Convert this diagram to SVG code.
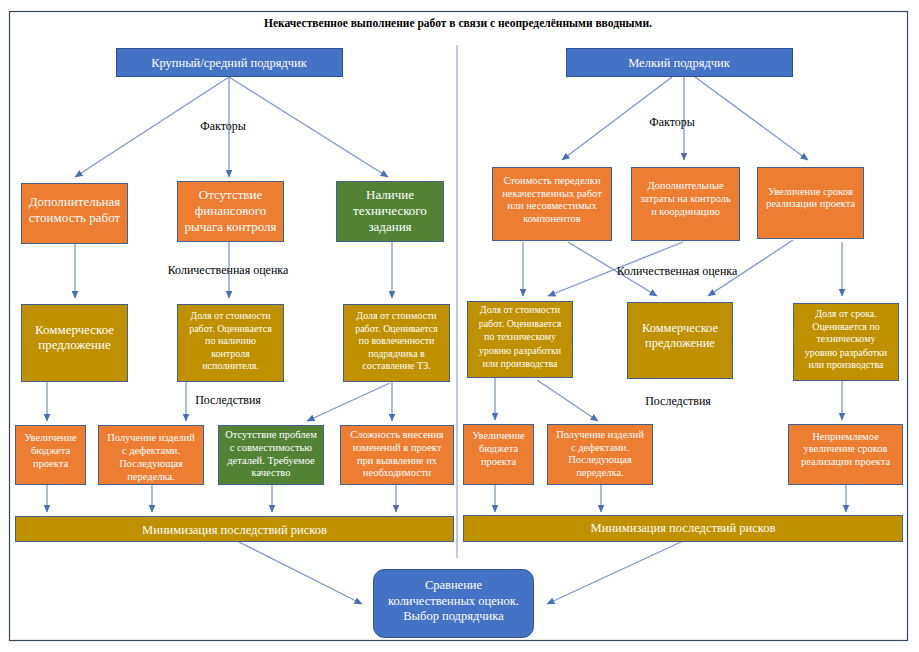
<svg xmlns="http://www.w3.org/2000/svg" width="919" height="652" viewBox="0 0 919 652">
<defs>
<marker id="ah" markerWidth="8" markerHeight="7" refX="7.5" refY="3.5" orient="auto" markerUnits="userSpaceOnUse">
<path d="M0,0 L8,3.5 L0,7 z" fill="#4A6FB5"/>
</marker>
</defs>
<style>
text{font-family:'Liberation Serif','Times New Roman','DejaVu Serif',serif}
.t{fill:#fff;text-anchor:middle}
.l{fill:#000;text-anchor:middle}
.s13{font-size:13px}
.s12{font-size:12.5px}
.s10{font-size:10.5px}
.s9{font-size:10px}
.bl{fill:#4472C4;stroke:#2F528F;stroke-width:1}
.or{fill:#ED7D31;stroke:#41608F;stroke-width:1}
.gr{fill:#548235;stroke:#41608F;stroke-width:1}
.go{fill:#BF9000;stroke:#41608F;stroke-width:1}
.c{stroke:#7E97C8;stroke-width:1.3;fill:none;marker-end:url(#ah)}
</style>
<rect x="0" y="0" width="919" height="652" fill="#fff"/>
<rect x="9.5" y="11.5" width="898" height="629" fill="none" stroke="#34495E" stroke-width="1.2"/>
<text class="l" x="458" y="27" font-size="11.5" font-weight="bold">Некачественное выполнение работ в связи с неопределёнными вводными.</text>
<line x1="457" y1="45" x2="457" y2="558" stroke="#9DB0CF" stroke-width="1.3"/>

<g id="connectors">
<path class="c" d="M229,77 L75,177"/>
<path class="c" d="M229,77 L229,177"/>
<path class="c" d="M229,77 L388,177"/>
<path class="c" d="M672,77 L562,160"/>
<path class="c" d="M684,77 L684,160"/>
<path class="c" d="M695,77 L808,160"/>
<path class="c" d="M75,243 L75,298"/>
<path class="c" d="M229,241 L229,298"/>
<path class="c" d="M392,241 L392,298"/>
<path class="c" d="M523,242 L523,296"/>
<path class="c" d="M568,242 L657,296"/>
<path class="c" d="M683,242 L548,296"/>
<path class="c" d="M793,240 L708,296"/>
<path class="c" d="M842,242 L842,296"/>
<path class="c" d="M47,381 L47,421"/>
<path class="c" d="M186,381 L186,421"/>
<path class="c" d="M390,383 L307,421"/>
<path class="c" d="M392,381 L392,421"/>
<path class="c" d="M495,377 L495,420"/>
<path class="c" d="M537,380 L598,421"/>
<path class="c" d="M842,380 L842,420"/>
<path class="c" d="M47,484 L47,512"/>
<path class="c" d="M152,484 L152,512"/>
<path class="c" d="M272,484 L272,512"/>
<path class="c" d="M396,484 L396,512"/>
<path class="c" d="M495,484 L495,512"/>
<path class="c" d="M601,484 L601,512"/>
<path class="c" d="M846,484 L846,512"/>
<path class="c" d="M237,541 L362,604"/>
<path class="c" d="M683,541 L547,604"/>
</g>

<g id="labels">
<text class="l" x="223" y="130" font-size="12">Факторы</text>
<text class="l" x="672" y="126" font-size="12">Факторы</text>
<text class="l" x="228" y="274" font-size="12">Количественная оценка</text>
<text class="l" x="677" y="275" font-size="12">Количественная оценка</text>
<text class="l" x="228" y="404" font-size="12">Последствия</text>
<text class="l" x="678" y="405" font-size="12">Последствия</text>
</g>

<g id="n-large">
<rect class="bl" x="116.5" y="48.5" width="226" height="28"/>
<text class="t s12" x="229" y="67">Крупный/средний подрядчик</text>
</g>
<g id="n-small">
<rect class="bl" x="566.5" y="48.5" width="226" height="28"/>
<text class="t s12" x="679" y="67">Мелкий подрядчик</text>
</g>

<g id="n-a1">
<rect class="or" x="21.5" y="183.5" width="106" height="60"/>
<text class="t s13" x="74.5" y="206">Дополнительная</text>
<text class="t s13" x="74.5" y="222">стоимость работ</text>
</g>
<g id="n-a2">
<rect class="or" x="177.5" y="181.5" width="106" height="60"/>
<text class="t s13" x="230.5" y="199">Отсутствие</text>
<text class="t s13" x="230.5" y="215">финансового</text>
<text class="t s13" x="230.5" y="231">рычага контроля</text>
</g>
<g id="n-a3">
<rect class="gr" x="336.5" y="181.5" width="107" height="60"/>
<text class="t s13" x="390" y="199">Наличие</text>
<text class="t s13" x="390" y="215">технического</text>
<text class="t s13" x="390" y="231">задания</text>
</g>

<g id="n-b1">
<rect class="go" x="21.5" y="304.5" width="106" height="77"/>
<text class="t s13" x="74.5" y="334">Коммерческое</text>
<text class="t s13" x="74.5" y="349">предложение</text>
</g>
<g id="n-b2">
<rect class="go" x="177.5" y="304.5" width="106" height="77"/>
<text class="t s9" x="230.5" y="319">Доля от стоимости</text>
<text class="t s9" x="230.5" y="331.5">работ.  Оценивается</text>
<text class="t s9" x="230.5" y="344">по наличию</text>
<text class="t s9" x="230.5" y="356.5">контроля</text>
<text class="t s9" x="230.5" y="369">исполнителя.</text>
</g>
<g id="n-b3">
<rect class="go" x="343.5" y="304.5" width="106" height="77"/>
<text class="t s9" x="396.5" y="319">Доля от стоимости</text>
<text class="t s9" x="396.5" y="331.5">работ.  Оценивается</text>
<text class="t s9" x="396.5" y="344">по вовлеченности</text>
<text class="t s9" x="396.5" y="356.5">подрядчика в</text>
<text class="t s9" x="396.5" y="369">составление ТЗ.</text>
</g>

<g id="n-c1">
<rect class="or" x="15.5" y="425.5" width="70" height="59"/>
<text class="t s10" x="50.5" y="441">Увеличение</text>
<text class="t s10" x="50.5" y="454">бюджета</text>
<text class="t s10" x="50.5" y="467">проекта</text>
</g>
<g id="n-c2">
<rect class="or" x="98.5" y="425.5" width="105" height="59"/>
<text class="t s10" x="151" y="441">Получение изделий</text>
<text class="t s10" x="151" y="454">с дефектами.</text>
<text class="t s10" x="151" y="467">Последующая</text>
<text class="t s10" x="151" y="480">переделка.</text>
</g>
<g id="n-c3">
<rect class="gr" x="218.5" y="425.5" width="105" height="59"/>
<text class="t s10" x="271" y="438">Отсутствие проблем</text>
<text class="t s10" x="271" y="451">с совместимостью</text>
<text class="t s10" x="271" y="464">деталей.  Требуемое</text>
<text class="t s10" x="271" y="476">качество</text>
</g>
<g id="n-c4">
<rect class="or" x="340.5" y="425.5" width="113" height="59"/>
<text class="t s10" x="397" y="438">Сложность внесения</text>
<text class="t s10" x="397" y="451">изменений в проект</text>
<text class="t s10" x="397" y="464">при выявление их</text>
<text class="t s10" x="397" y="476">необходимости</text>
</g>
<g id="n-minL">
<rect class="go" x="15.5" y="516.5" width="438" height="25"/>
<text class="t s12" x="234.5" y="534">Минимизация последствий рисков</text>
</g>

<g id="n-d1">
<rect class="or" x="492.5" y="167.5" width="119" height="73"/>
<text class="t s10" x="552" y="184">Стоимость переделки</text>
<text class="t s10" x="552" y="196.5">некачественных работ</text>
<text class="t s10" x="552" y="209">или несовместимых</text>
<text class="t s10" x="552" y="221.5">компонентов</text>
</g>
<g id="n-d2">
<rect class="or" x="631.5" y="167.5" width="108" height="73"/>
<text class="t s10" x="685.5" y="189">Дополнительные</text>
<text class="t s10" x="685.5" y="202">затраты на контроль</text>
<text class="t s10" x="685.5" y="215">и координацию</text>
</g>
<g id="n-d3">
<rect class="or" x="757.5" y="167.5" width="106" height="71"/>
<text class="t s10" x="810.5" y="195">Увеличение сроков</text>
<text class="t s10" x="810.5" y="207">реализации проекта</text>
</g>

<g id="n-e1">
<rect class="go" x="467.5" y="301.5" width="105" height="76"/>
<text class="t s9" x="520" y="313">Доля от стоимости</text>
<text class="t s9" x="520" y="326.5">работ.  Оценивается</text>
<text class="t s9" x="520" y="340">по техническому</text>
<text class="t s9" x="520" y="353.5">уровню разработки</text>
<text class="t s9" x="520" y="367">или производства</text>
</g>
<g id="n-e2">
<rect class="go" x="627.5" y="302.5" width="105" height="76"/>
<text class="t s12" x="680" y="332">Коммерческое</text>
<text class="t s12" x="680" y="347">предложение</text>
</g>
<g id="n-e3">
<rect class="go" x="793.5" y="303.5" width="105" height="77"/>
<text class="t s9" x="846" y="317">Доля от срока.</text>
<text class="t s9" x="846" y="329.5">Оценивается по</text>
<text class="t s9" x="846" y="342">техническому</text>
<text class="t s9" x="846" y="355.5">уровню разработки</text>
<text class="t s9" x="846" y="368">или производства</text>
</g>

<g id="n-f1">
<rect class="or" x="463.5" y="424.5" width="70" height="60"/>
<text class="t s10" x="498.5" y="439">Увеличение</text>
<text class="t s10" x="498.5" y="452">бюджета</text>
<text class="t s10" x="498.5" y="465">проекта</text>
</g>
<g id="n-f2">
<rect class="or" x="547.5" y="424.5" width="105" height="60"/>
<text class="t s10" x="600" y="438">Получение изделий</text>
<text class="t s10" x="600" y="451">с дефектами.</text>
<text class="t s10" x="600" y="463">Последующая</text>
<text class="t s10" x="600" y="476">переделка.</text>
</g>
<g id="n-f3">
<rect class="or" x="788.5" y="424.5" width="114" height="60"/>
<text class="t s10" x="845.5" y="440">Неприемлемое</text>
<text class="t s10" x="845.5" y="452">увеличение сроков</text>
<text class="t s10" x="845.5" y="465">реализации проекта</text>
</g>
<g id="n-minR">
<rect class="go" x="463.5" y="515.5" width="439" height="26"/>
<text class="t s12" x="683" y="532">Минимизация последствий рисков</text>
</g>

<g id="n-final">
<rect class="bl" x="373.5" y="569.5" width="160" height="68" rx="11" ry="11"/>
<text class="t s12" x="453.5" y="589">Сравнение</text>
<text class="t s12" x="453.5" y="605">количественных оценок.</text>
<text class="t s12" x="453.5" y="620">Выбор подрядчика</text>
</g>
</svg>
